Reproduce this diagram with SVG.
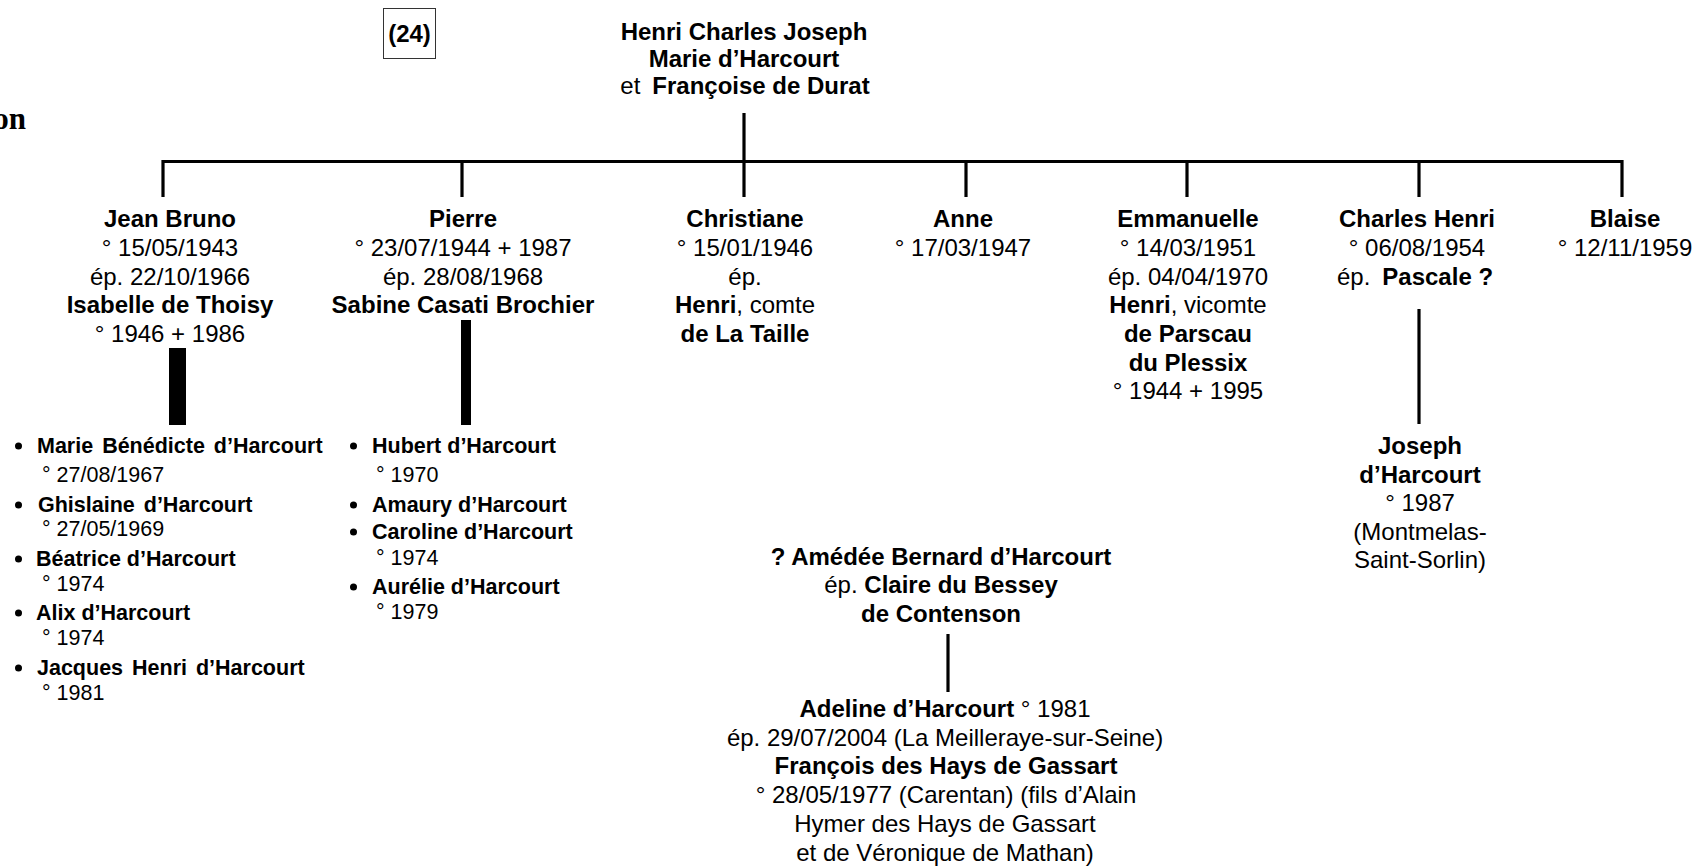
<svg xmlns="http://www.w3.org/2000/svg" width="1697" height="866" viewBox="0 0 1697 866">
<style>
text{font-family:"Liberation Sans",Arial,sans-serif;fill:#000;}
.m{font-size:24px;text-anchor:middle;}
.c{font-size:21.5px;}
.b{font-weight:bold;}
.ln{stroke:#000;stroke-width:3.2;fill:none;}
.bar{fill:#000;}
.dot{fill:#000;}
</style>
<rect width="1697" height="866" fill="#fff"/>
<text x="26" y="129" style="font-family:'Liberation Serif','Times New Roman',serif;font-weight:bold;font-size:31px;text-anchor:end">on</text>
<g id="ref24">
<rect x="383.5" y="8.5" width="52" height="50" fill="none" stroke="#333" stroke-width="1"/>
<text x="409.5" y="42" class="m b">(24)</text>
</g>
<g id="connectors">
<line class="ln" x1="744" y1="113" x2="744" y2="197"/>
<polyline class="ln" points="163,197 163,161.5 1622,161.5 1622,197"/>
<line class="ln" x1="462" y1="161.5" x2="462" y2="197"/>
<line class="ln" x1="966" y1="161.5" x2="966" y2="197"/>
<line class="ln" x1="1187" y1="161.5" x2="1187" y2="197"/>
<line class="ln" x1="1419" y1="161.5" x2="1419" y2="197"/>
<rect class="bar" x="169" y="348" width="17" height="77"/>
<rect class="bar" x="461" y="320" width="10" height="105"/>
<line class="ln" x1="1419" y1="309" x2="1419" y2="424"/>
<line class="ln" x1="948" y1="634" x2="948" y2="692"/>
</g>
<g id="parents">
<text x="744" y="39.5" class="m b">Henri Charles Joseph</text>
<text x="744" y="66.5" class="m b">Marie d’Harcourt</text>
<text x="745" y="93.5" class="m">et<tspan class="b" dx="12">Françoise de Durat</tspan></text>
</g>
<g id="jean-bruno">
<text x="170" y="227" class="m b">Jean Bruno</text>
<text x="170" y="256" class="m">° 15/05/1943</text>
<text x="170" y="284.5" class="m">ép. 22/10/1966</text>
<text x="170" y="313" class="m b">Isabelle de Thoisy</text>
<text x="170" y="342" class="m">° 1946 + 1986</text>
</g>
<g id="pierre">
<text x="463" y="227" class="m b">Pierre</text>
<text x="463" y="256" class="m">° 23/07/1944 + 1987</text>
<text x="463" y="284.5" class="m">ép. 28/08/1968</text>
<text x="463" y="313" class="m b">Sabine Casati Brochier</text>
</g>
<g id="christiane">
<text x="745" y="227" class="m b">Christiane</text>
<text x="745" y="256" class="m">° 15/01/1946</text>
<text x="745" y="284.5" class="m">ép.</text>
<text x="745" y="313" class="m"><tspan class="b">Henri</tspan>, comte</text>
<text x="745" y="342" class="m b">de La Taille</text>
</g>
<g id="anne">
<text x="963" y="227" class="m b">Anne</text>
<text x="963" y="256" class="m">° 17/03/1947</text>
</g>
<g id="emmanuelle">
<text x="1188" y="227" class="m b">Emmanuelle</text>
<text x="1188" y="256" class="m">° 14/03/1951</text>
<text x="1188" y="284.5" class="m">ép. 04/04/1970</text>
<text x="1188" y="313" class="m"><tspan class="b">Henri</tspan>, vicomte</text>
<text x="1188" y="342" class="m b">de Parscau</text>
<text x="1188" y="370.5" class="m b">du Plessix</text>
<text x="1188" y="399" class="m">° 1944 + 1995</text>
</g>
<g id="charles-henri">
<text x="1417" y="227" class="m b">Charles Henri</text>
<text x="1417" y="256" class="m">° 06/08/1954</text>
<text x="1415" y="284.5" class="m">ép.<tspan class="b" dx="12">Pascale ?</tspan></text>
</g>
<g id="blaise">
<text x="1625" y="227" class="m b">Blaise</text>
<text x="1625" y="256" class="m">° 12/11/1959</text>
</g>
<g id="joseph">
<text x="1420" y="454" class="m b">Joseph</text>
<text x="1420" y="482.5" class="m b">d’Harcourt</text>
<text x="1420" y="511" class="m">° 1987</text>
<text x="1420" y="540" class="m">(Montmelas-</text>
<text x="1420" y="568" class="m">Saint-Sorlin)</text>
</g>
<g id="children-jean-bruno">
<circle class="dot" cx="18.5" cy="446" r="3.5"/>
<text x="37" y="453" class="c b" word-spacing="3">Marie Bénédicte d’Harcourt</text>
<text x="42" y="482" class="c">° 27/08/1967</text>
<circle class="dot" cx="18.5" cy="505" r="3.5"/>
<text x="38" y="512" class="c b" word-spacing="3">Ghislaine d’Harcourt</text>
<text x="42" y="536" class="c">° 27/05/1969</text>
<circle class="dot" cx="18.5" cy="559" r="3.5"/>
<text x="36" y="566" class="c b">Béatrice d’Harcourt</text>
<text x="42" y="591" class="c">° 1974</text>
<circle class="dot" cx="18.5" cy="613" r="3.5"/>
<text x="36" y="620" class="c b">Alix d’Harcourt</text>
<text x="42" y="645" class="c">° 1974</text>
<circle class="dot" cx="18.5" cy="668" r="3.5"/>
<text x="37" y="675" class="c b" word-spacing="3">Jacques Henri d’Harcourt</text>
<text x="42" y="700" class="c">° 1981</text>
</g>
<g id="children-pierre">
<circle class="dot" cx="353.5" cy="446" r="3.5"/>
<text x="372" y="453" class="c b">Hubert d’Harcourt</text>
<text x="376" y="482" class="c">° 1970</text>
<circle class="dot" cx="353.5" cy="505" r="3.5"/>
<text x="372" y="512" class="c b">Amaury d’Harcourt</text>
<circle class="dot" cx="353.5" cy="532" r="3.5"/>
<text x="372" y="539" class="c b">Caroline d’Harcourt</text>
<text x="376" y="565" class="c">° 1974</text>
<circle class="dot" cx="353.5" cy="587" r="3.5"/>
<text x="372" y="594" class="c b">Aurélie d’Harcourt</text>
<text x="376" y="619" class="c">° 1979</text>
</g>
<g id="amedee">
<text x="941" y="565" class="m b">? Amédée Bernard d’Harcourt</text>
<text x="941" y="593" class="m">ép. <tspan class="b">Claire du Bessey</tspan></text>
<text x="941" y="622" class="m b">de Contenson</text>
</g>
<g id="adeline">
<text x="945" y="717" class="m"><tspan class="b">Adeline d’Harcourt</tspan> ° 1981</text>
<text x="945" y="745.7" class="m">ép. 29/07/2004 (La Meilleraye-sur-Seine)</text>
<text x="946" y="774.4" class="m b">François des Hays de Gassart</text>
<text x="946" y="803" class="m">° 28/05/1977 (Carentan) (fils d’Alain</text>
<text x="945" y="831.8" class="m">Hymer des Hays de Gassart</text>
<text x="945" y="860.5" class="m">et de Véronique de Mathan)</text>
</g>
</svg>
